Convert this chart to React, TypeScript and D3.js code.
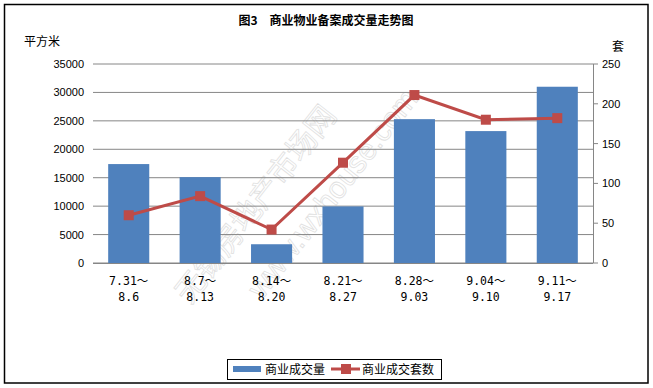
import React from "react";
import * as d3 from "d3";

const categories = ["7.31～|8.6", "8.7～|8.13", "8.14～|8.20", "8.21～|8.27", "8.28～|9.03", "9.04～|9.10", "9.11～|9.17"];
const areaValues = [17400, 15100, 3300, 9950, 25300, 23200, 31000];
const countValues = [60, 84, 42, 126, 211, 180, 182];
const leftTicks = [0, 5000, 10000, 15000, 20000, 25000, 30000, 35000];
const rightTicks = [0, 50, 100, 150, 200, 250];

const W = 653, H = 388;
const X0 = 93, X1 = 593, YT = 64, YB = 263;
const BLUE = "#4F81BD", RED = "#BE4B48", GRID = "#868686";

export default function App() {
  const x = d3.scaleBand<string>().domain(categories).range([X0, X1]).paddingInner(0.425).paddingOuter(0.2125);
  const band = d3.scaleBand<string>().domain(categories).range([X0, X1]);
  const yL = d3.scaleLinear().domain([0, 35000]).range([YB, YT]);
  const yR = d3.scaleLinear().domain([0, 250]).range([YB, YT]);
  const cx = (c: string) => (band(c) as number) + band.bandwidth() / 2;
  const line = d3.line<number>().x((_, i) => cx(categories[i])).y(d => yR(d));
  const sans = "'Liberation Sans', Arial, sans-serif";
  const cjk = "'Noto Sans CJK SC', sans-serif";
  const mono = "'DejaVu Sans Mono', 'Noto Sans CJK SC', monospace";
  return (
    <div style={{ position: "fixed", left: 0, top: 0 }}>
      <svg width={W} height={H} style={{ display: "block", background: "#fff" }}>
        <rect x={4.5} y={4.5} width={643.5} height={378.5} fill="#fff" stroke="#000" strokeWidth={1.5} />
        <text x={326} y={25} textAnchor="middle" fontFamily={cjk} fontWeight="bold" fontSize={12}>图3　商业物业备案成交量走势图</text>
        <text x={24} y={46} fontFamily={cjk} fontSize={12}>平方米</text>
        <text x={612} y={51} fontFamily={cjk} fontSize={12}>套</text>
        {/* watermark */}
        <g opacity={0.55}>
          <text transform="translate(190,305) rotate(-52)" fontFamily={cjk} fontSize={30} fill="none" stroke="#c8c8c8" strokeWidth={0.8}>无锡房地产市场网</text>
          <text transform="translate(262,300) rotate(-52)" fontFamily={sans} fontSize={30} fill="none" stroke="#c8c8c8" strokeWidth={0.8}>www.wxhouse.com</text>
        </g>
        {leftTicks.map(t => (
          <g key={"l" + t}>
            <line x1={X0} x2={X1} y1={yL(t)} y2={yL(t)} stroke={GRID} strokeWidth={1} />
            <text x={84} y={yL(t) + 4} textAnchor="end" fontFamily={sans} fontSize={11}>{t}</text>
          </g>
        ))}
        {categories.map((c, i) => (
          <rect key={"b" + c} x={x(c)} y={yL(areaValues[i])} width={x.bandwidth()} height={YB - yL(areaValues[i])} fill={BLUE} />
        ))}
        <line x1={X0} x2={X1} y1={YB + 0.5} y2={YB + 0.5} stroke={GRID} strokeWidth={1} />
        <line x1={X1 + 0.5} x2={X1 + 0.5} y1={YT} y2={YB} stroke={GRID} strokeWidth={1} />
        {rightTicks.map(t => (
          <g key={"r" + t}>
            <line x1={X1} x2={X1 + 5} y1={yR(t)} y2={yR(t)} stroke={GRID} strokeWidth={1} />
            <text x={602} y={yR(t) + 4} fontFamily={sans} fontSize={11}>{t}</text>
          </g>
        ))}
        <path d={line(countValues) as string} fill="none" stroke={RED} strokeWidth={3} />
        {countValues.map((v, i) => (
          <rect key={"m" + i} x={cx(categories[i]) - 5} y={yR(v) - 5} width={10} height={10} fill={RED} />
        ))}
        {categories.map(c => {
          const [a, b] = c.split("|");
          return (
            <g key={"x" + c}>
              <text x={cx(c)} y={285} textAnchor="middle" fontFamily={mono} fontSize={11.5}>{a}</text>
              <text x={cx(c)} y={301} textAnchor="middle" fontFamily={mono} fontSize={11.5}>{b}</text>
            </g>
          );
        })}
        <g>
          <rect x={227.5} y={359.5} width={214} height={20} fill="#fff" stroke="#000" strokeWidth={1} />
          <rect x={233} y={366} width={28} height={6} fill={BLUE} />
          <text x={265} y={374} fontFamily={cjk} fontSize={12}>商业成交量</text>
          <line x1={331} x2={360} y1={369} y2={369} stroke={RED} strokeWidth={3} />
          <rect x={341} y={364} width={10} height={10} fill={RED} />
          <text x={362} y={374} fontFamily={cjk} fontSize={12}>商业成交套数</text>
        </g>
      </svg>
    </div>
  );
}
